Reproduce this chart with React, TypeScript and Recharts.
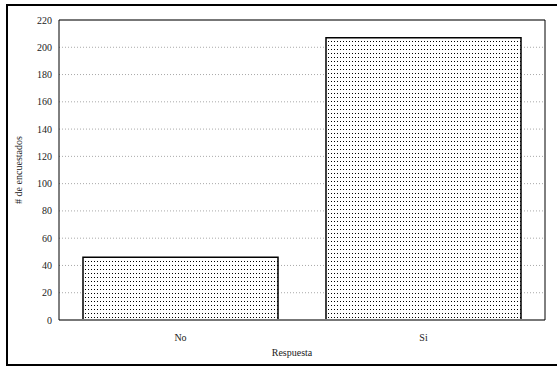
import React from 'react';
import { BarChart, Bar, XAxis, YAxis, CartesianGrid, ReferenceLine } from 'recharts';

const respuestas = ['No', 'Si'];
const encuestados = [46, 207];
const yTicks = [0, 20, 40, 60, 80, 100, 120, 140, 160, 180, 200, 220];

const data = respuestas.map((name, i) => ({ name, value: encuestados[i] }));

const font = { fontFamily: '"Liberation Serif", "Times New Roman", serif', fontSize: 10, fill: '#222' };

export default function App() {
    return (
        <div style={{ position: 'absolute', left: 0, top: 0, width: 557, height: 367, overflow: 'hidden', background: '#fff' }}>
            {/* dotted fill used by the bars */}
            <svg width={0} height={0} style={{ position: 'absolute' }}>
                <defs>
                    <pattern id="dots" width={3} height={4} patternUnits="userSpaceOnUse">
                        <rect width={3} height={4} fill="#fff" />
                        <rect x={1} y={1} width={1} height={1} fill="#000" />
                    </pattern>
                </defs>
            </svg>
            <div style={{ position: 'absolute', left: 6, top: 4, width: 560, height: 362, border: '2px solid #000', boxSizing: 'border-box' }} />
            <div style={{ position: 'absolute', left: 0, top: 0 }}>
                <BarChart
                    width={557}
                    height={367}
                    data={data}
                    margin={{ top: 20, right: 12, bottom: 2, left: 0 }}
                    barSize={195}
                >
                    <CartesianGrid yAxisId="main" vertical={false} stroke="#aaa" strokeDasharray="1 2" />
                    <XAxis
                        dataKey="name"
                        height={45}
                        tickLine={false}
                        axisLine={{ stroke: '#777', strokeWidth: 2 }}
                        tick={font}
                        tickMargin={8}
                        label={{ value: 'Respuesta', position: 'insideBottom', offset: 9, dx: -10, style: font }}
                    />
                    <YAxis
                        yAxisId="main"
                        width={59}
                        domain={[0, 220]}
                        ticks={yTicks}
                        interval={0}
                        tickSize={0}
                        tickMargin={7}
                        axisLine={{ stroke: '#000' }}
                        tickLine={false}
                        tick={font}
                        label={{ value: '# de encuestados', angle: -90, position: 'insideLeft', offset: 18, style: { ...font, textAnchor: 'middle' } }}
                    />
                    <YAxis
                        yAxisId="inner"
                        domain={[0, 220]}
                        ticks={yTicks}
                        interval={0}
                        mirror
                        tick={false}
                        tickSize={3}
                        axisLine={false}
                        tickLine={{ stroke: '#000' }}
                    />
                    <YAxis
                        yAxisId="right"
                        orientation="right"
                        domain={[0, 220]}
                        ticks={yTicks}
                        interval={0}
                        mirror
                        tick={false}
                        tickSize={3}
                        axisLine={{ stroke: '#000' }}
                        tickLine={{ stroke: '#000' }}
                    />
                    <ReferenceLine yAxisId="main" y={220} stroke="#777" strokeWidth={2} />
                    <Bar
                        yAxisId="main"
                        dataKey="value"
                        fill="url(#dots)"
                        stroke="#000"
                        strokeWidth={1.5}
                        isAnimationActive={false}
                    />
                </BarChart>
            </div>
        </div>
    );
}
